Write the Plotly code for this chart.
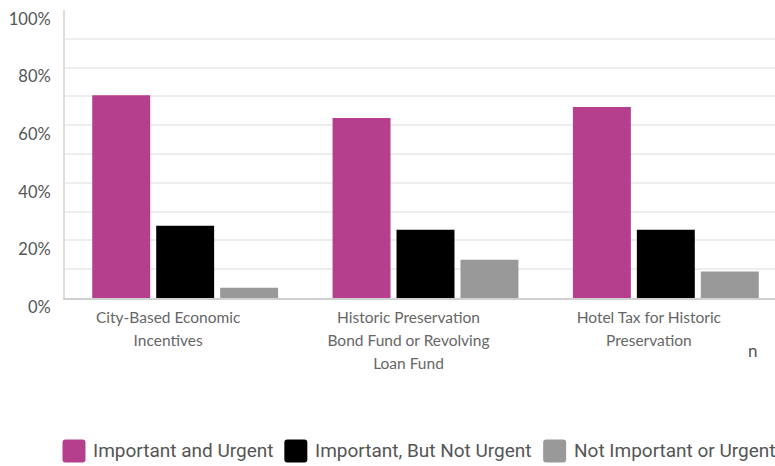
import plotly.graph_objects as go

# Survey results: share of respondents per funding mechanism
categories = [
    "City-Based Economic<br>Incentives",
    "Historic Preservation<br>Bond Fund or Revolving<br>Loan Fund",
    "Hotel Tax for Historic<br>Preservation",
]
series_names = ["Important and Urgent", "Important, But Not Urgent", "Not Important or Urgent"]
urgent = [70.4, 62.5, 66.3]
not_urgent = [25.1, 23.7, 23.7]
not_important = [3.6, 13.3, 9.2]
colors = ["#b53e8d", "#000000", "#999999"]
y_tick_vals = [0, 20, 40, 60, 80, 100]
y_tick_text = ["0%", "20%", "40%", "60%", "80%", "100%"]

W, H = 775, 466
L, R, T, B = 64.5, 0, 9.5, 167.5
plot_w = W - L - R
plot_h = H - T - B

fig = go.Figure()
x_idx = list(range(len(categories)))
for name, vals, col in zip(series_names, [urgent, not_urgent, not_important], colors):
    fig.add_trace(go.Bar(x=x_idx, y=vals, name=name, marker=dict(color=col, line=dict(width=0)),
                         showlegend=False, hoverinfo="skip"))

# category labels: outer font sets line spacing, inner span sets glyph size
tick_text = []
for c in categories:
    lines = c.split("<br>")
    tick_text.append("<br>".join(f"<span style='font-size:15.5px'>{ln}</span>" for ln in lines))

cat_px = 240.5
x_max = -0.5 + plot_w / cat_px

fig.update_layout(
    width=W, height=H,
    margin=dict(l=L, r=R, t=T, b=B, pad=0),
    paper_bgcolor="white", plot_bgcolor="white",
    barmode="group", bargap=0.2017, bargroupgap=0.094,
    font=dict(family="Lato, sans-serif", color="#555555"),
    xaxis=dict(
        range=[-0.5, x_max], tickmode="array", tickvals=x_idx, ticktext=tick_text,
        tickfont=dict(size=18, color="#666666", family="Lato, sans-serif"),
        showgrid=False, zeroline=False, showline=True, linecolor="#d0d0d0", linewidth=2,
        ticks="", ticklabelstandoff=1, ticklabelshift=-17, fixedrange=True,
    ),
    yaxis=dict(
        range=[0, 100], tickmode="array", tickvals=y_tick_vals, ticktext=y_tick_text,
        tickfont=dict(size=16.5, color="#555555", family="Lato, sans-serif"),
        showgrid=True, gridcolor="#eeeeee", gridwidth=1.5,
        minor=dict(dtick=10, showgrid=True, gridcolor="#eeeeee", gridwidth=1.5, tick0=0),
        zeroline=False, showline=True, linecolor="#dddddd", linewidth=2,
        ticks="", ticklabelstandoff=9, ticklabelshift=9, fixedrange=True,
    ),
)

def px_to_paper(px, py):
    return (px - L) / plot_w, (H - B - py) / plot_h

def rounded_square(x0, y0, size, r):
    x1, y1 = x0 + size, y0 + size
    def p(x, y):
        a, b = px_to_paper(x, y)
        return f"{a:.5f},{b:.5f}"
    return (f"M{p(x0 + r, y0)} L{p(x1 - r, y0)} Q{p(x1, y0)} {p(x1, y0 + r)} "
            f"L{p(x1, y1 - r)} Q{p(x1, y1)} {p(x1 - r, y1)} L{p(x0 + r, y1)} "
            f"Q{p(x0, y1)} {p(x0, y1 - r)} L{p(x0, y0 + r)} Q{p(x0, y0)} {p(x0 + r, y0)} Z")

legend_x = [62, 284, 543]
legend_y = 440.5
sq = 23
for lx, name, col in zip(legend_x, series_names, colors):
    fig.add_shape(type="path", xref="paper", yref="paper", path=rounded_square(lx, legend_y, sq, 3),
                  fillcolor=col, line=dict(width=0))
    ax, ay = px_to_paper(lx + sq + 6, legend_y + sq / 2)
    fig.add_annotation(x=ax, y=ay, xref="paper", yref="paper", text=name, showarrow=False,
                       xanchor="left", yanchor="middle",
                       font=dict(family="Roboto, sans-serif", size=19, color="#555555"))

nx, ny = px_to_paper(753, 351)
fig.add_annotation(x=nx, y=ny, xref="paper", yref="paper", text="n", showarrow=False,
                   xanchor="center", yanchor="middle",
                   font=dict(family="Lato, sans-serif", size=17, color="#555555"))

fig.write_html("out.html")
